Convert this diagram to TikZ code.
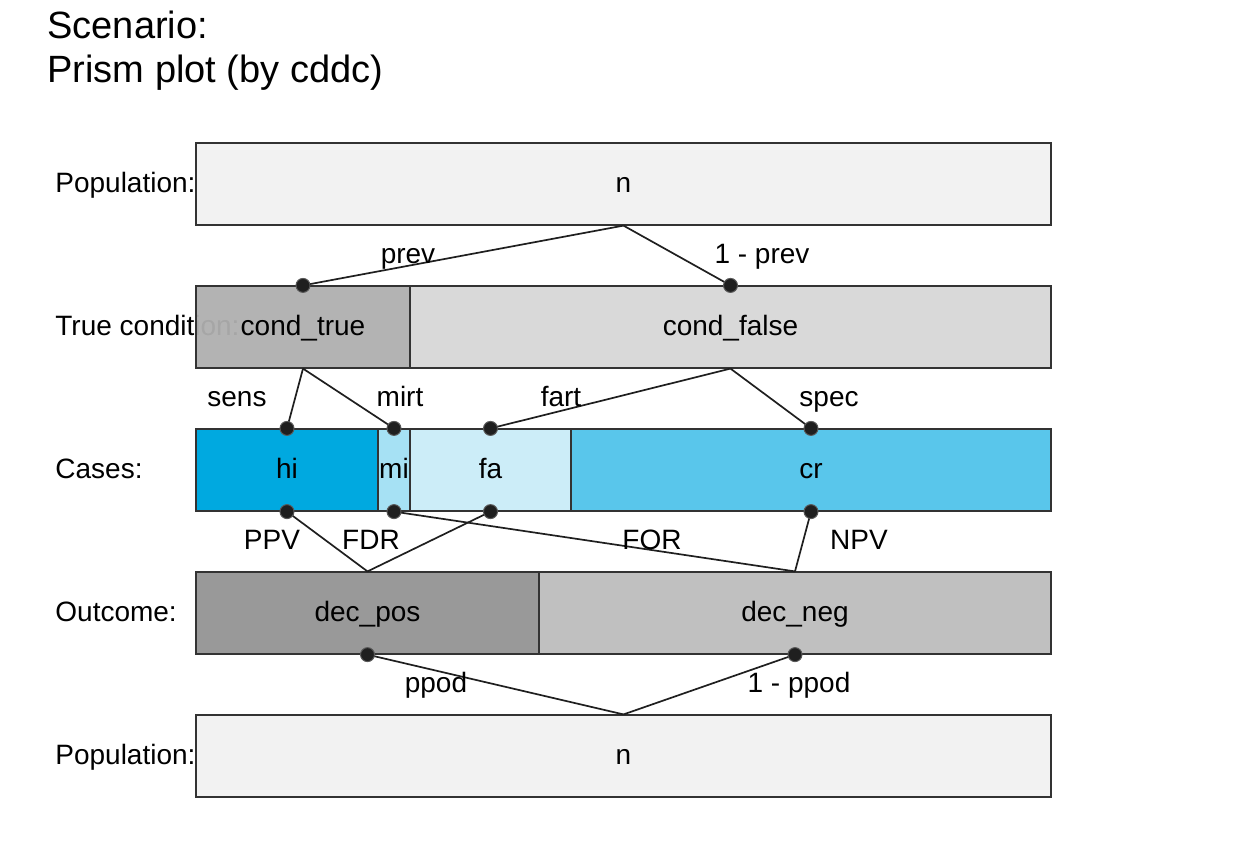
\documentclass[tikz,border=0pt]{standalone}
\usepackage{fontspec}
\setmainfont{Liberation Sans}
\begin{document}
\begin{tikzpicture}[x=0.5pt,y=-0.5pt,
  box/.style={draw=black!80, line width=0.6pt, inner sep=0pt, minimum height=41pt, text height=8.5pt, text depth=0pt, font=\fontsize{14}{16}\selectfont},
  lab/.style={inner sep=0pt, anchor=base, font=\fontsize{14}{16}\selectfont},
  rowlab/.style={inner sep=0pt, anchor=base west, font=\fontsize{14}{16}\selectfont},
  link/.style={draw=black!88, line width=0.85pt},
  dot/.style={circle, fill=black!88, draw=black!65, line width=0.5pt, minimum size=7pt, inner sep=0pt}]
\useasboundingbox (0,0) rectangle (1248,864);
\definecolor{popc}{HTML}{F2F2F2}
\definecolor{ctc}{HTML}{AFAFAF}
\definecolor{cfc}{HTML}{D9D9D9}
\definecolor{hic}{HTML}{00A9E0}
\definecolor{mic}{HTML}{A6E1F4}
\definecolor{fac}{HTML}{CCEDF8}
\definecolor{crc}{HTML}{59C6EB}
\definecolor{dpc}{HTML}{999999}
\definecolor{dnc}{HTML}{C0C0C0}
% title
\node[inner sep=0pt, anchor=west, font=\fontsize{19}{22}\selectfont] (t1) at (47,25) {Scenario:};
\node[inner sep=0pt, anchor=west, font=\fontsize{19}{22}\selectfont] (t2) at (47,73) {Prism plot (by cddc)};
% row labels
\node[rowlab] (r1) at (55,192) {Population:};
\node[rowlab] (r2) at (55,335) {True condition:};
\node[rowlab] (r3) at (55,478) {Cases:};
\node[rowlab] (r4) at (55,621) {Outcome:};
\node[rowlab] (r5) at (55,764) {Population:};
% boxes
\node[box, fill=popc, minimum width=427.5pt] (popT) at (623.5,184) {n};
\node[box, fill=ctc, fill opacity=0.95, text opacity=1, minimum width=107pt] (ct) at (303,327) {cond\_true};
\node[box, fill=cfc, minimum width=320.5pt] (cf) at (730.5,327) {cond\_false};
\node[box, fill=hic, minimum width=91pt] (hi) at (287,470) {hi};
\node[box, fill=mic, minimum width=16pt] (mi) at (394,470) {mi};
\node[box, fill=fac, minimum width=80.5pt] (fa) at (490.5,470) {fa};
\node[box, fill=crc, minimum width=240pt] (cr) at (811,470) {cr};
\node[box, fill=dpc, minimum width=171.5pt] (dp) at (367.5,613) {dec\_pos};
\node[box, fill=dnc, minimum width=256pt] (dn) at (795,613) {dec\_neg};
\node[box, fill=popc, minimum width=427.5pt] (popB) at (623.5,756) {n};
% links
\draw[link] (popT.south) -- (ct.north);
\draw[link] (popT.south) -- (cf.north);
\draw[link] (ct.south) -- (hi.north);
\draw[link] (ct.south) -- (mi.north);
\draw[link] (cf.south) -- (fa.north);
\draw[link] (cf.south) -- (cr.north);
\draw[link] (hi.south) -- (dp.north);
\draw[link] (fa.south) -- (dp.north);
\draw[link] (mi.south) -- (dn.north);
\draw[link] (cr.south) -- (dn.north);
\draw[link] (dp.south) -- (popB.north);
\draw[link] (dn.south) -- (popB.north);
% dots
\foreach \n in {ct.north,cf.north,hi.north,mi.north,fa.north,cr.north,hi.south,mi.south,fa.south,cr.south,dp.south,dn.south}
  \node[dot] at (\n) {};
% link labels
\node[lab] (lprev) at (408,263) {prev};
\node[lab] (lnprev) at (762,263) {1 - prev};
\node[lab] (lsens) at (237,406) {sens};
\node[lab] (lmirt) at (400,406) {mirt};
\node[lab] (lfart) at (561,406) {fart};
\node[lab] (lspec) at (829,406) {spec};
\node[lab] (lppv) at (272,549) {PPV};
\node[lab] (lfdr) at (371,549) {FDR};
\node[lab] (lfor) at (652,549) {FOR};
\node[lab] (lnpv) at (859,549) {NPV};
\node[lab] (lppod) at (436,692) {ppod};
\node[lab] (lnppod) at (799,692) {1 - ppod};
\end{tikzpicture}
\end{document}
